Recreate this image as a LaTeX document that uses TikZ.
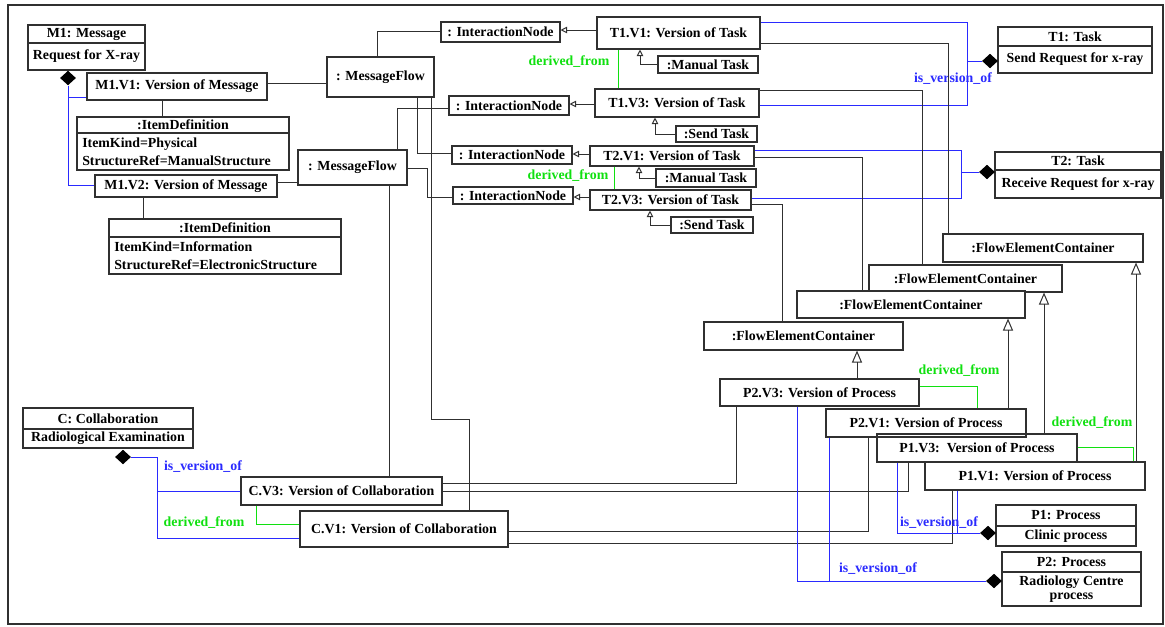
\documentclass[tikz,border=0pt]{standalone}
\usepackage{fontspec}
\setmainfont{Liberation Serif}
\usetikzlibrary{arrows.meta,shapes.geometric}
\definecolor{ln}{HTML}{303030}
\definecolor{vblue}{HTML}{2A2AFF}
\definecolor{dgreen}{HTML}{10E010}
\newcommand\bfnt{\fontsize{10.4}{12}\selectfont\bfseries}
\tikzset{
 box/.style={draw=ln, line width=0.8pt, fill=white, inner sep=0pt, font=\bfnt},
 txt/.style={inner sep=0pt, font=\bfnt},
 conn/.style={draw=ln, line width=0.75pt},
 ver/.style={draw=vblue, line width=0.75pt},
 der/.style={draw=dgreen, line width=0.75pt},
 dia/.style={diamond, fill=black, inner sep=0pt, minimum width=12pt, minimum height=11pt},
 gen/.style={-{Triangle[open,length=9pt,width=7.5pt]}},
 genS/.style={-{Triangle[open,length=5pt,width=5pt]}},
 lblG/.style={text=dgreen, inner sep=0pt, font=\bfnt},
 lblB/.style={text=vblue, inner sep=0pt, font=\bfnt},
}
\newcommand\bx[6]{\node[box,minimum width={(#4-#2)*0.75pt},minimum height={(#5-#3)*0.75pt}] (#1) at ({(#2+#4)/2},{(#3+#5)/2}) {#6};}
\newcommand\sbx[8]{%
 \bx{#1}{#2}{#3}{#4}{#5}{}
 \draw[ln, line width=0.8pt] (#1.west |- 0,#6) -- (#1.east |- 0,#6);
 \node[txt] (#1h) at ({(#2+#4)/2},{(#3+#6)/2}) {#7};
 \node[txt, align=center, font=\fontsize{10.4}{10.5}\selectfont\bfseries] (#1b) at ({(#2+#4)/2},{(#6+#5)/2}) {#8};}
\begin{document}
\begin{tikzpicture}[x=0.75pt,y=-0.75pt]
\useasboundingbox (0,0) rectangle (1165,626);
\draw[ln, line width=0.8pt] (8,5) rectangle (1163,624);
% ---------- boxes
\sbx{M1}{28}{25}{145}{70}{43}{M1: Message}{Request for X-ray}
\bx{M1V1}{87}{73}{267}{100}{M1.V1: Version of Message}
\bx{ID1}{77}{117}{289}{170}{}
\draw[ln, line width=0.8pt] (ID1.west |- 0,133) -- (ID1.east |- 0,133);
\node[txt] (ID1h) at (183,125) {:ItemDefinition};
\node[txt, anchor=west, align=left, font=\fontsize{10.4}{13.5}\selectfont\bfseries] (ID1b) at (82,151.5) {ItemKind=Physical\\StructureRef=ManualStructure};
\bx{M1V2}{95}{175}{277}{197}{M1.V2: Version of Message}
\bx{ID2}{109}{219}{341}{274}{}
\draw[ln, line width=0.8pt] (ID2.west |- 0,237) -- (ID2.east |- 0,237);
\node[txt] (ID2h) at (225,228) {:ItemDefinition};
\node[txt, anchor=west, align=left, font=\fontsize{10.4}{13.5}\selectfont\bfseries] (ID2b) at (114,256) {ItemKind=Information\\StructureRef=ElectronicStructure};
\bx{MF1}{327}{57}{434}{97}{: MessageFlow}
\bx{MF2}{298}{150}{407}{185}{: MessageFlow}
\bx{IN1}{441}{22}{560}{42}{: InteractionNode}
\bx{IN2}{449}{96}{569}{115}{: InteractionNode}
\bx{IN3}{452}{146}{572}{164}{: InteractionNode}
\bx{IN4}{453}{187}{573}{204}{: InteractionNode}
\bx{T1V1}{597}{17}{760}{49}{T1.V1: Version of Task}
\bx{MT1}{658}{56}{758}{73}{:Manual Task}
\bx{T1V3}{595}{89}{759}{117}{T1.V3: Version of Task}
\bx{ST1}{676}{126}{757}{142}{:Send Task}
\bx{T2V1}{590}{146}{754}{166}{T2.V1: Version of Task}
\bx{MT2}{656}{169}{756}{187}{:Manual Task}
\bx{T2V3}{590}{190}{751}{210}{T2.V3: Version of Task}
\bx{ST2}{671}{217}{753}{233}{:Send Task}
\sbx{T1}{998}{27}{1152}{73}{46}{T1: Task}{Send Request for x-ray}
\sbx{T2}{995}{152}{1161}{198}{170}{T2: Task}{Receive Request for x-ray}
\bx{FEC1}{943}{234}{1143}{262}{:FlowElementContainer}
\bx{FEC2}{869}{265}{1062}{292}{:FlowElementContainer}
\bx{FEC3}{797}{291}{1025}{318}{:FlowElementContainer}
\bx{FEC4}{704}{322}{903}{350}{:FlowElementContainer}
\bx{P2V3}{720}{379}{919}{406}{P2.V3: Version of Process}
\bx{P1V1}{925}{462}{1145}{490}{P1.V1: Version of Process}
\bx{P1V3}{877}{434}{1077}{462}{P1.V3:\ \ Version of Process}
\node[box, fill=none, minimum width={200*0.75pt}, minimum height={28*0.75pt}] (P2V1) at (926,423) {P2.V1: Version of Process};
\sbx{P1}{996}{505}{1136}{546}{526}{P1: Process}{Clinic process}
\sbx{P2}{1002}{552}{1141}{606}{572}{P2: Process}{Radiology Centre\\process}
\sbx{C}{23}{408}{193}{448}{429}{C: Collaboration}{Radiological Examination}
\bx{CV3}{241}{477}{442}{505}{C.V3: Version of Collaboration}
\bx{CV1}{300}{511}{508}{547}{C.V1: Version of Collaboration}
% ---------- diamonds
\node[dia] (dM1) at (68,78) {};
\node[dia] (dT1) at (990,61) {};
\node[dia] (dT2) at (987,172) {};
\node[dia] (dP1) at (988,533) {};
\node[dia] (dP2) at (994,581) {};
\node[dia] (dC) at (123,457) {};
% ---------- message part
\draw[ver] (dM1.south) |- (M1V1.west |- 0,97);
\draw[ver] (dM1.south) |- (M1V2.west |- 0,185);
\draw[conn] (M1V1.east |- 0,83) -- (MF1.west |- 0,83);
\draw[conn] (M1V1.south -| 162,0) -- (ID1.north -| 162,0);
\draw[conn] (M1V2.east |- 0,182) -- (MF2.west |- 0,182);
\draw[conn] (M1V2.south -| 143,0) -- (ID2.north -| 143,0);
\draw[conn] (MF1.north -| 377,0) |- (IN1.west |- 0,31);
\draw[conn] (MF1.south -| 417,0) |- (IN3.west |- 0,153);
\draw[conn] (MF2.north -| 397,0) |- (IN2.west |- 0,108);
\draw[conn] (MF2.east |- 0,168) -| (427,197) -- (IN4.west |- 0,197);
\draw[conn] (MF2.south -| 389,0) -- (CV3.north -| 389,0);
\draw[conn] (MF1.south -| 431,0) |- (469,419) -- (CV1.north -| 469,0);
% ---------- interaction nodes
\draw[conn,genS] (T1V1.west |- 0,30) -- (IN1.east |- 0,30);
\draw[conn,genS] (T1V3.west |- 0,104) -- (IN2.east |- 0,104);
\draw[conn,genS] (T2V1.west |- 0,154) -- (IN3.east |- 0,154);
\draw[conn,genS] (T2V3.west |- 0,197) -- (IN4.east |- 0,197);
% ---------- task kinds
\draw[conn,genS] (MT1.west) -| (T1V1.south -| 640,0);
\draw[conn,genS] (ST1.west) -| (T1V3.south -| 655,0);
\draw[conn,genS] (MT2.west) -| (T2V1.south -| 639,0);
\draw[conn,genS] (ST2.west) -| (T2V3.south -| 650,0);
% ---------- task derivation
\draw[der] (T1V1.south -| 618,0) -- (T1V3.north -| 618,0);
\draw[der] (T2V1.south -| 614,0) -- (T2V3.north -| 614,0);
\node[lblG] (dl1) at (569,62) {derived\_from};
\node[lblG] (dl2) at (568,176) {derived\_from};
% ---------- task versions
\draw[ver] (T1V1.east |- 0,22) -| (967,105) -- (T1V3.east |- 0,105);
\draw[ver] (dT1.west) -- (dT1.west -| 967,0);
\node[lblB] (vl1) at (953,79) {is\_version\_of};
\draw[ver] (T2V1.east |- 0,150) -| (961,198) -- (T2V3.east |- 0,198);
\draw[ver] (dT2.west) -- (dT2.west -| 961,0);
% ---------- tasks to containers
\draw[conn] (T1V1.east |- 0,43) -| (FEC1.north -| 948,0);
\draw[conn] (T1V3.east |- 0,90) -| (FEC2.north -| 922,0);
\draw[conn] (T2V1.east |- 0,157) -| (FEC3.north -| 862,0);
\draw[conn] (T2V3.east |- 0,204) -| (FEC4.north -| 782,0);
% ---------- processes to containers
\draw[conn,gen] (P2V3.north -| 857,0) -- (FEC4.south -| 857,0);
\draw[conn,gen] (P2V1.north -| 1008,0) -- (FEC3.south -| 1008,0);
\draw[conn,gen] (P1V3.north -| 1044,0) -- (FEC2.south -| 1044,0);
\draw[conn,gen] (P1V1.north -| 1136,0) -- (FEC1.south -| 1136,0);
% ---------- process derivation
\draw[der] (P2V3.east |- 0,386) -| (P2V1.north -| 977,0);
\node[lblG] (dl3) at (959,371) {derived\_from};
\draw[der] (P1V3.east |- 0,447) -| (P1V1.north -| 1133,0);
\node[lblG] (dl4) at (1092,423) {derived\_from};
% ---------- processes to collaborations
\draw[conn] (P2V3.south -| 736,0) |- (CV3.east |- 0,483);
\draw[conn] (P1V3.south -| 908,0) |- (CV3.east |- 0,491);
\draw[conn] (P2V1.south -| 868,0) |- (CV1.east |- 0,531);
\draw[conn] (P1V1.south -| 952,0) |- (CV1.east |- 0,543);
% ---------- process versions
\draw[ver] (P2V3.south -| 797,0) |- (dP2.west);
\draw[ver] (P2V1.south -| 829,0) -- (dP2.west -| 829,0);
\draw[ver] (P1V3.south -| 897,0) |- (dP1.west);
\draw[ver] (P1V1.south -| 957,0) -- (dP1.west -| 957,0);
\node[lblB] (vl2) at (939,523) {is\_version\_of};
\node[lblB] (vl3) at (878,569) {is\_version\_of};
% ---------- collaboration
\draw[ver] (dC.east) -| (157,538) -- (CV1.west |- 0,538);
\draw[ver] (CV3.west) -- (CV3.west -| 157,0);
\draw[der] (CV3.south -| 256,0) |- (CV1.west |- 0,524);
\node[lblB] (vl4) at (203,467) {is\_version\_of};
\node[lblG] (dl5) at (204,523) {derived\_from};
\end{tikzpicture}
\end{document}
